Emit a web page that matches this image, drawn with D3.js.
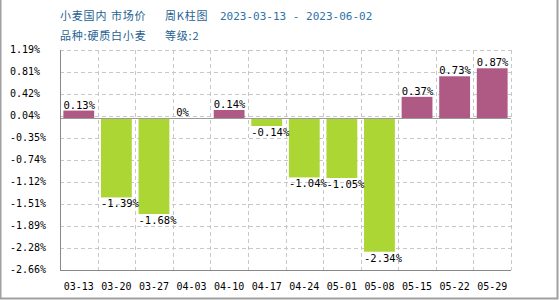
<html><head>
<script src="https://d3js.org/d3.v7.min.js"></script>
<style>
  body { margin: 0; background: #fff; }
  text { font-family: "DejaVu Sans Mono", monospace; }
</style>
</head>
<body>
<script>
  // weekly change, wheat domestic market price
  var weeks = ["03-13","03-20","03-27","04-03","04-10","04-17","04-24","05-01","05-08","05-15","05-22","05-29"];
  var changes = [0.13, -1.39, -1.68, 0, 0.14, -0.14, -1.04, -1.05, -2.34, 0.37, 0.73, 0.87];
  var yTicks = [1.19, 0.81, 0.42, 0.04, -0.35, -0.74, -1.12, -1.51, -1.89, -2.28, -2.66];
  var titleParts = ["小麦国内", "市场价", "周K柱图"];
  var titleDate = "2023-03-13 - 2023-06-02";
  var subtitleParts = ["品种:硬质白小麦", "等级:2"];

  let width = 560, height = 300;
  let margin = { top: 50, right: 49, bottom: 30, left: 60 };
  let chartWidth = width - margin.left - margin.right;
  let chartHeight = height - margin.top - margin.bottom;

  let svg = d3.select("body").append("svg").attr("width", width).attr("height", height);

  // outer frame (left, right, bottom)
  svg.append("path")
    .attr("d", "M0.5,0 V" + (height - 1.5) + " H" + (width - 2.5) + " V0")
    .attr("fill", "none").attr("stroke", "#a0a0a0").attr("stroke-width", 2);

  // title lines, word groups placed like the original
  let titleX = [60, 111, 165];
  titleParts.forEach(function(s, i) {
    svg.append("text").attr("x", titleX[i]).attr("y", 20).attr("fill", "#1f5f92")
      .style("font-family", "'Noto Sans CJK SC', sans-serif").style("font-size", "11px")
      .style("letter-spacing", "0.8px").text(s);
  });
  svg.append("text").attr("x", 220).attr("y", 20).attr("fill", "#2e72a8")
    .style("font-size", "11px").text(titleDate);
  let subX = [60, 165];
  subtitleParts.forEach(function(s, i) {
    svg.append("text").attr("x", subX[i]).attr("y", 40).attr("fill", "#1f5f92")
      .style("font-family", "'Noto Sans CJK SC', sans-serif").style("font-size", "11px")
      .style("letter-spacing", "0.8px").text(s);
  });

  let chart = svg.append("g").attr("transform", "translate(" + margin.left + "," + margin.top + ")");

  let xScale = d3.scaleBand().domain(weeks).range([0, chartWidth]).paddingInner(0.18).paddingOuter(0.09);
  let yScale = d3.scaleLinear().domain([yTicks[yTicks.length - 1], yTicks[0]]).range([chartHeight, 0]);
  let step = xScale.step();

  // grid
  yTicks.slice(0, -1).forEach(function(t) {
    chart.append("line").attr("x1", 0).attr("x2", chartWidth)
      .attr("y1", Math.round(yScale(t)) + 0.5).attr("y2", Math.round(yScale(t)) + 0.5)
      .attr("stroke", "#c8c8c8").attr("stroke-dasharray", "4,3");
  });
  for (let i = 1; i <= weeks.length; i++) {
    let x = Math.round(xScale(weeks[0]) - xScale.paddingOuter() * step + i * step) + 0.5;
    chart.append("line").attr("x1", x).attr("x2", x).attr("y1", 0).attr("y2", chartHeight)
      .attr("stroke", "#c8c8c8").attr("stroke-dasharray", "4,3");
  }

  // bars
  weeks.forEach(function(w, i) {
    let v = changes[i];
    let y0 = yScale(0), y1 = yScale(v);
    chart.append("rect")
      .attr("x", xScale(w))
      .attr("y", Math.min(y0, y1))
      .attr("width", xScale.bandwidth())
      .attr("height", Math.max(1, Math.abs(y1 - y0)))
      .attr("fill", v >= 0 ? "#ae5a84" : "#acd633");
  });

  // zero line and axes
  chart.append("line").attr("x1", 0).attr("x2", chartWidth)
    .attr("y1", Math.round(yScale(0)) + 0.5).attr("y2", Math.round(yScale(0)) + 0.5)
    .attr("stroke", "#999");
  chart.append("line").attr("x1", 0.5).attr("x2", 0.5).attr("y1", 0).attr("y2", chartHeight).attr("stroke", "#888");
  chart.append("line").attr("x1", 0).attr("x2", chartWidth).attr("y1", chartHeight + 0.5).attr("y2", chartHeight + 0.5).attr("stroke", "#888");

  // value labels
  weeks.forEach(function(w, i) {
    let v = changes[i];
    let txt = (v === 0 ? "0" : v.toFixed(2)) + "%";
    chart.append("text")
      .attr("x", xScale(w))
      .attr("y", v >= 0 ? yScale(v) - 2 : yScale(v) + 10)
      .attr("fill", "#000").style("font-size", "10.5px")
      .text(txt);
  });

  // y tick labels
  yTicks.forEach(function(t) {
    svg.append("text").attr("x", 10).attr("y", margin.top + yScale(t)).attr("dy", "0.3em")
      .attr("fill", "#000").style("font-size", "10px").text(t.toFixed(2) + "%");
  });

  // x labels
  let xAxis = d3.axisBottom(xScale).tickSize(0).tickPadding(13);
  let gx = svg.append("g").attr("transform", "translate(" + margin.left + "," + (margin.top + chartHeight) + ")").call(xAxis);
  gx.select(".domain").remove();
  gx.selectAll("text").attr("fill", "#000").style("font-size", "10px").style("font-family", "'DejaVu Sans Mono', monospace");
</script>
</body>
</html>
